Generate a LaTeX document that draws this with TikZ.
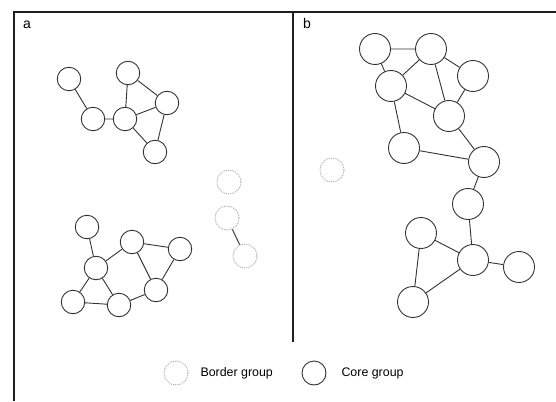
\documentclass[tikz,border=0pt]{standalone}
\usepackage{fontspec}
\setmainfont{Liberation Sans}
\begin{document}
\begin{tikzpicture}[x=1pt,y=-1pt,
  core/.style={circle,draw=black!80,line width=0.9pt,minimum size=23.5pt,inner sep=0pt},
  bigcore/.style={core,minimum size=31pt},
  border/.style={circle,draw=black!35,line width=0.9pt,densely dotted,minimum size=24pt,inner sep=0pt},
  link/.style={draw=black!80,line width=0.9pt},
  frame/.style={draw=black!88,line width=2pt},
  panel/.style={font=\fontsize{14}{16}\selectfont,anchor=base},
  legend/.style={font=\fontsize{12.4}{14}\selectfont,anchor=west}]
\useasboundingbox (0,0) rectangle (556,401);
% frame and divider
\coordinate (tl) at (14,12);
\coordinate (tr) at (556,12);
\coordinate (bl) at (14,401);
\coordinate (mt) at (293,12);
\coordinate (mb) at (293,342);
\draw[frame] (tr) -- (tl) -- (bl);
\draw[draw=black!88,line width=1.5pt] (mt) -- (mb);
\node[panel] (la) at (27,29) {a};
\node[panel] (lb) at (307,29) {b};
% panel a, upper cluster
\node[core] (a1) at (69,79) {};
\node[core] (a2) at (93,119) {};
\node[core] (a3) at (125,119) {};
\node[core] (a4) at (128,73) {};
\node[core] (a5) at (167,103) {};
\node[core] (a6) at (155,152) {};
\draw[link] (a1)--(a2) (a2)--(a3) (a3)--(a4) (a4)--(a5) (a3)--(a5) (a3)--(a6) (a5)--(a6);
% panel a, lower cluster
\node[core] (c1) at (87,227) {};
\node[core] (c2) at (96,268) {};
\node[core] (c3) at (132,242) {};
\node[core] (c4) at (180,249) {};
\node[core] (c5) at (156,290) {};
\node[core] (c6) at (119,305) {};
\node[core] (c7) at (73,302) {};
\draw[link] (c1)--(c2) (c2)--(c3) (c3)--(c4) (c3)--(c5) (c4)--(c5)
  (c2)--(c7) (c2)--(c6) (c7)--(c6) (c6)--(c5);
% panel a, border groups
\node[border] (b1) at (229,182) {};
\node[border] (b2) at (227,218) {};
\node[border] (b3) at (245,256) {};
\draw[draw=black!70,line width=1.1pt] (b2)--(b3);
% panel b
\node[bigcore] (d1) at (375,49) {};
\node[bigcore] (d2) at (431,49) {};
\node[bigcore] (d3) at (473,76) {};
\node[bigcore] (d4) at (391,86) {};
\node[bigcore] (d5) at (449,116) {};
\node[bigcore] (d6) at (404,148) {};
\node[bigcore] (d7) at (484,162) {};
\node[bigcore] (d8) at (468,204) {};
\node[bigcore] (d9) at (421,233) {};
\node[bigcore] (d10) at (473,260) {};
\node[bigcore] (d11) at (519,267) {};
\node[bigcore] (d12) at (413,302) {};
\draw[link] (d1)--(d2) (d1)--(d4) (d2)--(d4) (d2)--(d3) (d2)--(d5) (d3)--(d5)
  (d4)--(d5) (d4)--(d6) (d5)--(d7) (d6)--(d7) (d7)--(d8) (d8)--(d10)
  (d9)--(d10) (d9)--(d12) (d12)--(d10) (d10)--(d11);
\node[border] (e1) at (332,170) {};
% legend
\node[border] (kb) at (176,373) {};
\node[legend] (tb) at (197,373) {Border group};
\node[core,minimum size=24pt] (kc) at (314,373) {};
\node[legend] (tc) at (338,373) {Core group};
\end{tikzpicture}
\end{document}
